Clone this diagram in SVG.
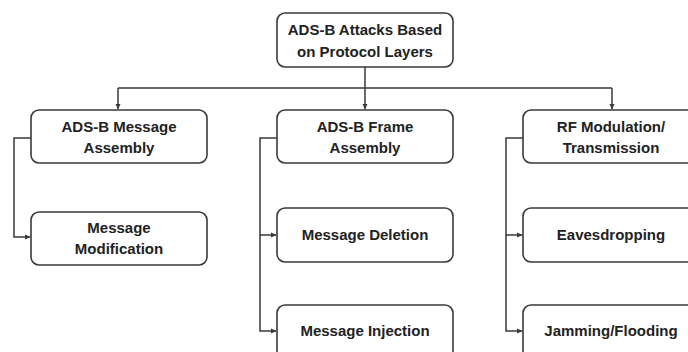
<svg xmlns="http://www.w3.org/2000/svg" width="688" height="352" viewBox="0 0 688 352">
<style>
.box{fill:#fff;stroke:#3a3a3a;stroke-width:1.6}
.t{font-family:"Liberation Sans",Arial,sans-serif;font-weight:bold;font-size:15px;fill:#222;text-anchor:middle}
.c{fill:none;stroke:#3a3a3a;stroke-width:1.5}
</style>
<defs>
<marker id="a" markerWidth="6" markerHeight="6" refX="5" refY="3" orient="auto" markerUnits="userSpaceOnUse">
<path d="M0,0.5 L5.5,3 L0,5.5 Z" fill="#3a3a3a"/>
</marker>
</defs>
<rect width="688" height="352" fill="#fff"/>
<g id="connectors">
<path class="c" d="M365,67 V88"/>
<path class="c" d="M118,88 H612"/>
<path class="c" d="M118,88 V109" marker-end="url(#a)"/>
<path class="c" d="M365,88 V109" marker-end="url(#a)"/>
<path class="c" d="M612,88 V109" marker-end="url(#a)"/>
<path class="c" d="M31,138 H14 V237 H30" marker-end="url(#a)"/>
<path class="c" d="M277,138 H260 V235 H276" marker-end="url(#a)"/>
<path class="c" d="M260,235 V331 H276" marker-end="url(#a)"/>
<path class="c" d="M523,138 H506 V235 H522" marker-end="url(#a)"/>
<path class="c" d="M506,235 V331 H522" marker-end="url(#a)"/>
</g>
<g id="root">
<rect class="box" x="277" y="13" width="176" height="54" rx="8"/>
<text class="t" x="365" y="35">ADS-B Attacks Based</text>
<text class="t" x="365" y="57">on Protocol Layers</text>
</g>
<g id="msg-assembly">
<rect class="box" x="31" y="110" width="176" height="53" rx="8"/>
<text class="t" x="119" y="132">ADS-B Message</text>
<text class="t" x="119" y="153">Assembly</text>
</g>
<g id="msg-modification">
<rect class="box" x="31" y="212" width="176" height="53" rx="8"/>
<text class="t" x="119" y="233">Message</text>
<text class="t" x="119" y="254">Modification</text>
</g>
<g id="frame-assembly">
<rect class="box" x="277" y="110" width="176" height="53" rx="8"/>
<text class="t" x="365" y="132">ADS-B Frame</text>
<text class="t" x="365" y="153">Assembly</text>
</g>
<g id="msg-deletion">
<rect class="box" x="277" y="208" width="176" height="54" rx="8"/>
<text class="t" x="365" y="240">Message Deletion</text>
</g>
<g id="msg-injection">
<rect class="box" x="277" y="305" width="176" height="54" rx="8"/>
<text class="t" x="365" y="336">Message Injection</text>
</g>
<g id="rf">
<rect class="box" x="523" y="110" width="176" height="53" rx="8"/>
<text class="t" x="611" y="132">RF Modulation/</text>
<text class="t" x="611" y="153">Transmission</text>
</g>
<g id="eavesdropping">
<rect class="box" x="523" y="208" width="176" height="54" rx="8"/>
<text class="t" x="611" y="240">Eavesdropping</text>
</g>
<g id="jamming">
<rect class="box" x="523" y="305" width="176" height="54" rx="8"/>
<text class="t" x="611" y="336">Jamming/Flooding</text>
</g>
</svg>
